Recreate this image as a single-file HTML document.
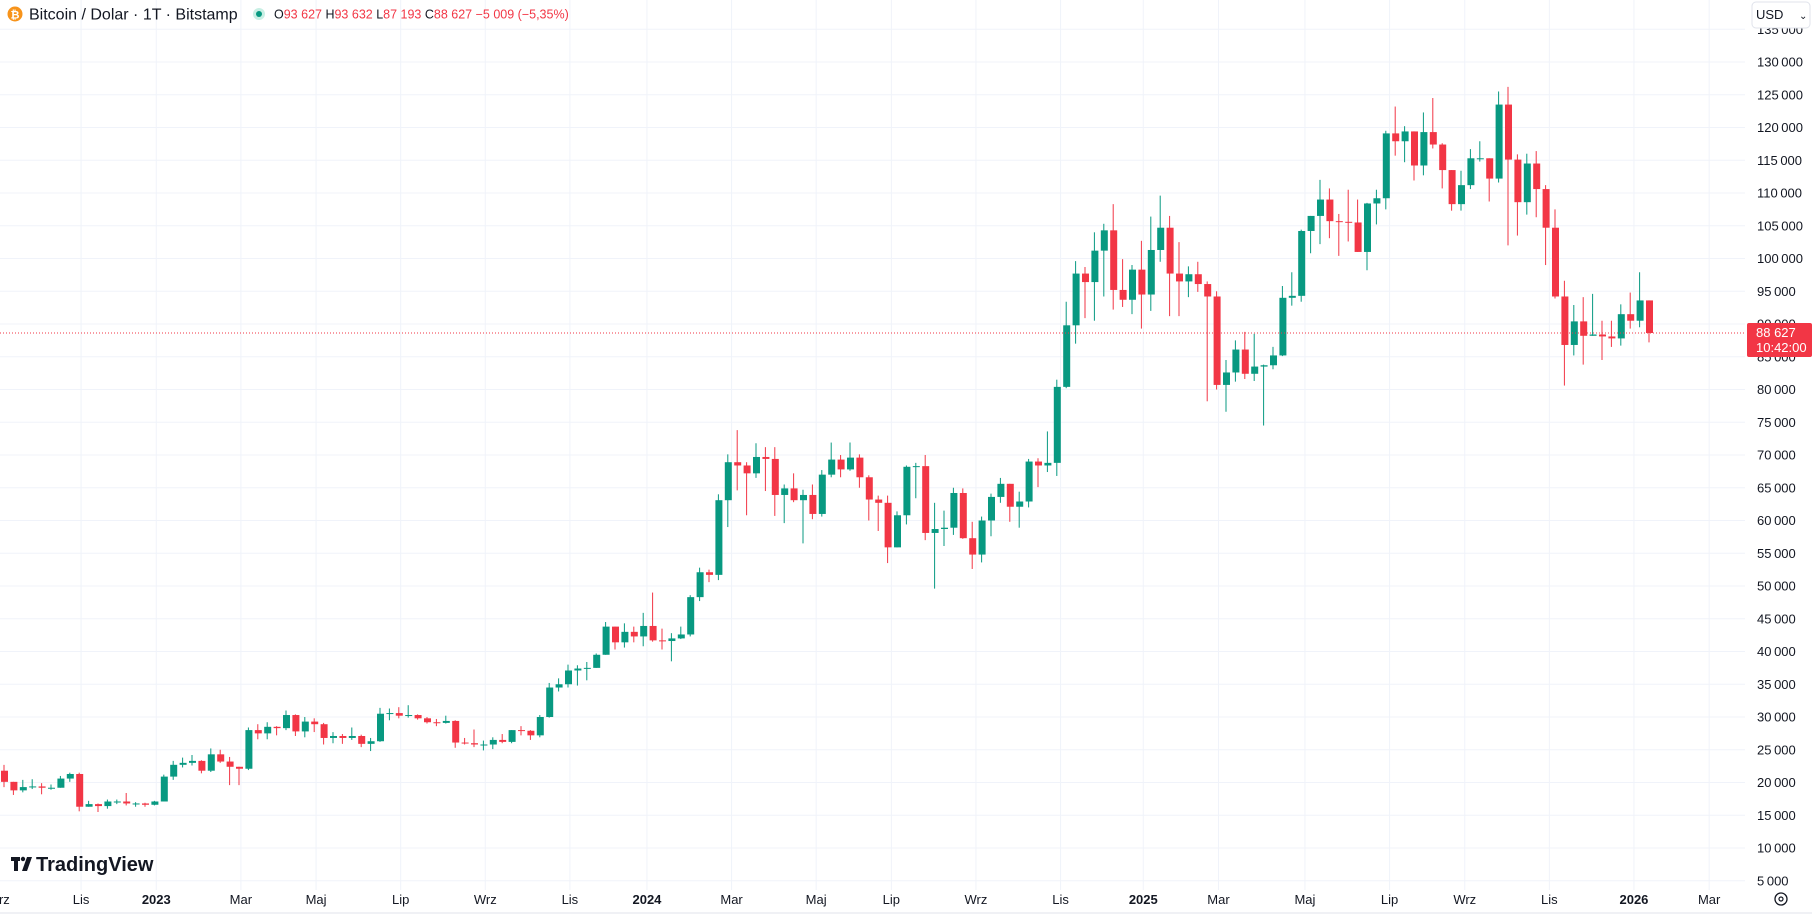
<!DOCTYPE html>
<html><head><meta charset="utf-8">
<style>
html,body{margin:0;padding:0;background:#fff;width:1812px;height:916px;overflow:hidden;font-family:"Liberation Sans",sans-serif;}
svg{position:absolute;left:0;top:0}
</style></head>
<body>
<svg id="chart" width="1812" height="916"></svg>
<script>
const startOpen = 21.8;
const closes = [
20.1,18.8,19.3,19.4,19.2,19.2,20.6,21.3,16.3,16.7,16.4,17.1,17.1,16.8,16.8,16.6,
17.1,20.9,22.7,23.0,23.3,21.8,24.3,23.2,22.4,22.1,28.0,27.5,28.5,28.3,30.3,27.8,29.3,28.9,26.8,27.1,26.8,27.1,25.9,26.3,30.5,30.6,30.2,30.3,29.8,29.2,29.1,29.4,26.1,26.0,25.8,25.8,26.5,26.2,28.0,27.9,27.2,30.0,34.5,35.0,37.1,37.4,37.5,39.5,43.8,41.4,43.0,42.3,
43.9,41.7,41.6,42.0,42.6,48.3,52.1,51.7,63.1,68.9,68.4,67.2,69.7,69.4,63.9,64.9,63.1,63.9,61.0,67.0,69.3,67.8,69.6,66.6,63.2,62.7,55.9,60.8,68.2,68.3,58.1,58.7,58.9,64.2,57.3,54.8,60.0,63.6,65.6,62.1,62.9,69.0,68.4,68.8,80.4,89.8,97.7,96.4,101.2,104.3,95.2,93.7,
98.3,94.5,101.3,104.7,97.7,96.5,97.6,96.1,94.2,80.7,82.6,86.1,82.4,83.5,83.7,85.2,94.0,94.3,104.2,106.5,109.0,105.7,105.6,105.5,101.0,108.4,109.2,119.1,117.9,119.4,114.2,119.3,117.4,113.5,108.3,111.2,115.3,115.3,112.2,123.5,115.1,108.6,114.5,110.6,104.7,94.2,86.8,90.4,88.2,88.4,88.1,87.8,91.5,90.5,93.6,88.627
];
const highs = [
22.7,19.9,20.4,20.5,19.9,19.7,21.0,21.5,21.5,17.2,16.8,17.4,17.4,18.4,17.0,16.9,
17.2,21.2,23.3,23.8,24.2,23.4,25.2,25.0,23.9,22.2,28.4,28.9,29.2,28.6,31.0,30.4,30.0,29.8,29.1,27.7,27.4,28.4,27.3,26.8,31.4,31.3,31.5,31.8,30.4,30.0,29.7,30.2,29.5,26.8,28.1,26.4,26.9,27.4,28.0,28.6,28.0,30.3,35.2,35.9,38.0,37.9,38.4,39.7,44.5,43.4,44.3,43.8,
45.9,49.0,43.5,42.8,43.8,48.6,52.8,52.5,64.0,70.1,73.8,68.9,71.8,71.2,71.2,65.5,67.2,64.7,65.5,67.7,71.9,70.0,71.9,70.1,66.9,63.8,63.8,61.4,68.4,68.8,70.0,62.7,61.5,65.0,64.9,59.8,60.6,64.1,66.5,64.4,64.4,69.4,69.5,73.6,81.5,93.4,99.6,98.7,104.0,105.3,108.3,99.9,
99.0,102.7,106.4,109.6,106.5,102.5,98.8,99.5,96.5,95.0,84.5,87.5,88.8,88.5,83.8,86.5,95.8,97.9,104.4,105.7,112.0,110.7,106.8,110.5,109.0,108.5,110.5,119.5,123.2,120.2,119.3,122.3,124.5,117.6,113.3,113.4,116.7,117.9,113.7,125.5,126.2,115.9,116.0,116.4,111.2,107.5,96.6,92.9,94.1,94.6,90.5,90.5,93.0,94.8,97.9,93.6
];
const lows = [
19.3,18.1,18.5,19.0,18.2,18.9,19.2,20.1,15.6,16.3,15.5,16.0,16.7,16.5,16.3,16.3,
16.5,17.1,20.4,22.3,22.6,21.4,21.6,23.0,19.6,19.6,21.9,26.6,26.6,27.2,28.0,27.1,26.9,27.7,25.8,26.0,25.9,26.5,25.4,24.8,26.2,29.5,29.8,29.9,29.6,29.0,28.6,29.0,25.3,25.8,25.4,24.9,25.1,26.0,26.0,27.2,26.5,26.9,29.9,33.9,34.5,34.8,35.6,37.5,39.5,40.3,40.6,41.4,
40.8,41.5,40.3,38.5,41.9,42.3,47.7,50.6,50.9,59.0,64.6,60.8,66.5,64.5,60.7,59.6,62.8,56.5,60.2,60.6,66.6,66.6,67.6,65.0,60.0,58.4,53.5,56.5,59.4,63.4,57.0,49.6,56.1,57.8,57.2,52.6,53.6,57.6,62.7,59.8,58.9,62.0,65.1,67.4,66.8,80.2,87.0,90.9,90.5,94.2,92.2,92.6,
91.5,89.3,92.0,99.5,91.2,91.2,94.1,94.9,78.2,80.0,76.6,81.2,81.6,81.3,74.5,83.1,85.1,92.8,93.4,100.8,102.2,103.1,100.4,102.6,102.0,98.2,105.2,107.5,115.7,114.7,111.9,112.7,116.8,110.7,107.3,107.3,110.6,114.8,108.7,111.6,102.0,103.5,106.7,106.3,99.0,93.9,80.6,85.2,83.8,89.6,84.5,86.5,86.7,89.3,89.5,87.2
];
const priceTicks = [5,10,15,20,25,30,35,40,45,50,55,60,65,70,75,80,85,90,95,100,105,110,115,120,125,130,135];
const timeLabels = ["Wrz","Lis","2023","Mar","Maj","Lip","Wrz","Lis","2024","Mar","Maj","Lip","Wrz","Lis","2025","Mar","Maj","Lip","Wrz","Lis","2026","Mar"];
const timeLabelWeek = [-0.6,8.2,16.2,25.2,33.2,42.2,51.2,60.2,68.4,77.4,86.4,94.4,103.4,112.4,121.2,129.2,138.4,147.4,155.4,164.4,173.4,181.4];

const NS="http://www.w3.org/2000/svg";
const svg=document.getElementById('chart');
function el(tag,attrs,parent){const e=document.createElementNS(NS,tag);for(const k in attrs)e.setAttribute(k,attrs[k]);(parent||svg).appendChild(e);return e;}
const plotRight=1745, plotBottom=890;
function y(v){return 62+(130-v)*6.55;}
function x(i){return 4+i*9.4;}

const grid=el('g',{});


priceTicks.forEach(v=>{const yy=y(v);if(yy<0||yy>plotBottom)return;el('line',{x1:0,x2:plotRight,y1:yy,y2:yy,stroke:'#f0f3fa','stroke-width':1},grid);});
timeLabelWeek.forEach(w=>{const xx=x(w);if(xx<0)return;el('line',{x1:xx,x2:xx,y1:0,y2:plotBottom,stroke:'#f0f3fa','stroke-width':1},grid);});

const cg=el('g',{});


closes.forEach((c,i)=>{
  const o=i===0?startOpen:closes[i-1];
  const h=Math.max(highs[i],o,c), l=Math.min(lows[i],o,c);
  const col=c>=o?'#089981':'#f23645';
  const cx=x(i);
  const g=el('g',{},cg);
  
  
  el('line',{x1:cx,x2:cx,y1:y(h),y2:y(l),stroke:col,'stroke-width':1},g);
  const top=y(Math.max(o,c)), bot=y(Math.min(o,c));
  el('rect',{x:cx-3,y:top,width:7,height:Math.max(1,bot-top),fill:col},g);
});

const last=closes[closes.length-1];
const pl=el('line',{x1:0,x2:plotRight,y1:y(last),y2:y(last),stroke:'#f23645','stroke-width':1,'stroke-dasharray':'1 2'});



const pa=el('g',{});


priceTicks.forEach(v=>{const yy=y(v);if(yy<20||yy>plotBottom)return;const t=el('text',{x:1757,y:yy+4.5,'font-size':'13',fill:'#131722'},pa);t.textContent=String(v)+'\u2009000';});
const tg=el('g',{});


el('rect',{x:1747,y:y(last)-10,width:65,height:34,rx:2,fill:'#f23645'},tg);
const t1=el('text',{x:1756,y:y(last)+4,'font-size':'13',fill:'#fff'},tg);t1.textContent='88 627';
const t2=el('text',{x:1756,y:y(last)+19,'font-size':'13',fill:'#fff'},tg);t2.textContent='10:42:00';

const ta=el('g',{});


el('line',{x1:0,x2:1812,y1:913,y2:913,stroke:'#e0e3eb'},ta);
timeLabels.forEach((s,i)=>{const t=el('text',{x:x(timeLabelWeek[i]),y:904,'font-size':'13','text-anchor':'middle',fill:'#131722','font-weight':/^\d/.test(s)?'bold':'normal'},ta);t.textContent=s;});
const gi=el('g',{});


el('circle',{cx:1781,cy:899,r:6,fill:'none',stroke:'#131722','stroke-width':1.3},gi);
el('circle',{cx:1781,cy:899,r:2,fill:'none',stroke:'#131722','stroke-width':1.2},gi);

const hd=el('g',{});


el('circle',{cx:15,cy:14,r:7.5,fill:'#f7931a'},hd);
const bt=el('text',{x:15,y:18.5,'font-size':'11','font-weight':'bold','text-anchor':'middle',fill:'#fff'},hd);bt.textContent='₿';
const ti=el('text',{x:29,y:19.5,'font-size':'16',fill:'#131722'},hd);ti.textContent='Bitcoin / Dolar · 1T · Bitstamp';
el('circle',{cx:259,cy:14,r:6,fill:'#c8efe4'},hd);
el('circle',{cx:259,cy:14,r:3,fill:'#089981'},hd);
const oh=el('text',{x:274,y:18.5,'font-size':'12.5',fill:'#f23645'},hd);
oh.innerHTML='<tspan fill="#131722">O</tspan>93 627 <tspan fill="#131722">H</tspan>93 632 <tspan fill="#131722">L</tspan>87 193 <tspan fill="#131722">C</tspan>88 627 −5 009 (−5,35%)';

const ub=el('g',{});


el('rect',{x:1752,y:2,width:58,height:26,rx:4,fill:'#fff',stroke:'#e0e3eb'},ub);
const ut=el('text',{x:1756,y:19,'font-size':'13',fill:'#131722'},ub);ut.textContent='USD';
const ua=el('text',{x:1799,y:19,'font-size':'10',fill:'#131722'},ub);ua.textContent='⌄';

const lg=el('g',{});


el('rect',{x:11,y:857,width:9,height:4,fill:'#131722'},lg);
el('rect',{x:14,y:857,width:4,height:14,fill:'#131722'},lg);
el('circle',{cx:23,cy:859,r:2.2,fill:'#131722'},lg);
el('polygon',{points:'27,857 32,857 27,871 22,871',fill:'#131722'},lg);
const lt=el('text',{x:36,y:871,'font-size':'20','font-weight':'bold',fill:'#131722'},lg);lt.textContent='TradingView';
</script>
</body></html>
